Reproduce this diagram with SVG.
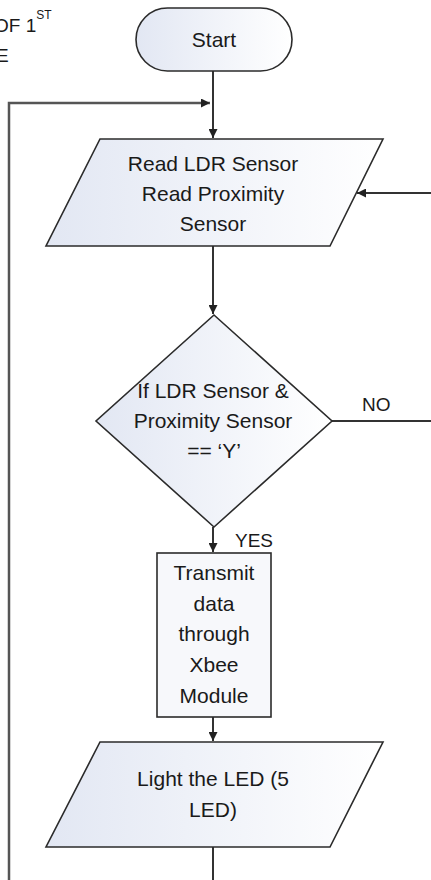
<svg xmlns="http://www.w3.org/2000/svg" width="431" height="880" viewBox="0 0 431 880">
<defs>
<linearGradient id="g" x1="0" y1="0" x2="1" y2="0">
<stop offset="0" stop-color="#e2e7f3"/>
<stop offset="1" stop-color="#ffffff"/>
</linearGradient>
<marker id="ah" viewBox="0 0 10 10" refX="10" refY="5" markerWidth="9" markerHeight="9" markerUnits="userSpaceOnUse" orient="auto">
<path d="M0,0 L10,5 L0,10 Z" fill="#222"/>
</marker>
</defs>
<style>
.sh{fill:url(#g);stroke:#2b2b2b;stroke-width:1.6}
.bx{fill:#f7f8fb;stroke:#2b2b2b;stroke-width:1.6}
.t{font-family:"Liberation Sans",Arial,sans-serif;font-size:21px;fill:#1a1a1a;text-anchor:middle}
.lb{font-family:"Liberation Sans",Arial,sans-serif;font-size:19px;fill:#1a1a1a}
.c{fill:none;stroke:#333;stroke-width:2}
</style>
<g id="title">
<text class="lb" x="-6" y="32">OF 1<tspan font-size="12" dy="-13">ST</tspan></text>
<text class="lb" x="-4" y="62">E</text>
</g>
<g id="connectors">
<path class="c" d="M213,71 V138" marker-end="url(#ah)"/>
<path class="c" d="M9,880 V103 H210" marker-end="url(#ah)" style="stroke:#555;stroke-width:2.5"/>
<path class="c" d="M213,246 V314" marker-end="url(#ah)"/>
<path class="c" d="M332,421 H431"/>
<path class="c" d="M431,193 H357" marker-end="url(#ah)"/>
<path class="c" d="M213,527 V552" marker-end="url(#ah)"/>
<path class="c" d="M213,717 V741" marker-end="url(#ah)"/>
<path class="c" d="M213,847 V880"/>
</g>
<g id="start">
<rect class="sh" x="136" y="8" width="156" height="63" rx="31.5"/>
<text class="t" x="214" y="47">Start</text>
</g>
<g id="read">
<polygon class="sh" points="100,139 383,139 330,246 46,246"/>
<text class="t" x="213" y="171">Read LDR Sensor</text>
<text class="t" x="213" y="201">Read Proximity</text>
<text class="t" x="213" y="231">Sensor</text>
</g>
<g id="decision">
<polygon class="sh" points="214,315 332,421 214,527 96,421"/>
<text class="t" x="213" y="398">If LDR Sensor &amp;</text>
<text class="t" x="213" y="428">Proximity Sensor</text>
<text class="t" x="214" y="458">== ‘Y’</text>
</g>
<g id="no-label">
<text class="lb" x="362" y="411">NO</text>
</g>
<g id="yes-label">
<text class="lb" x="235" y="547">YES</text>
</g>
<g id="transmit">
<rect class="bx" x="157" y="553" width="114" height="164"/>
<text class="t" x="214" y="580">Transmit</text>
<text class="t" x="214" y="611">data</text>
<text class="t" x="214" y="641">through</text>
<text class="t" x="214" y="672">Xbee</text>
<text class="t" x="214" y="703">Module</text>
</g>
<g id="light">
<polygon class="sh" points="100,742 383,742 330,847 46,847"/>
<text class="t" x="213" y="786">Light the LED (5</text>
<text class="t" x="213" y="817">LED)</text>
</g>
</svg>
